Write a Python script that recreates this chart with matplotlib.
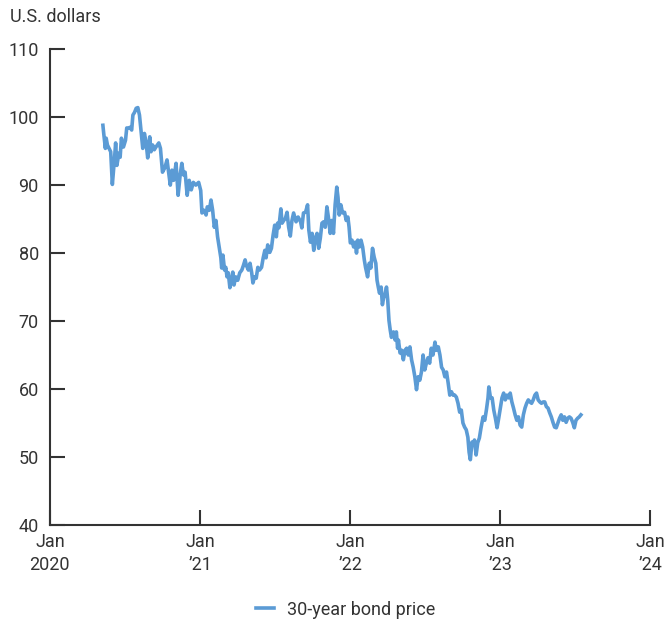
import numpy as np
import pandas as pd
import matplotlib
matplotlib.use('Agg')
import matplotlib.pyplot as plt

plt.rcParams['font.family'] = ['Roboto', 'DejaVu Sans']

# days since 2020-01-01 and the 30-year bond price
days = [129, 131, 135, 137, 140, 148, 152, 157, 160, 163, 168, 171, 174, 179, 184, 187,
        192, 195, 199, 202, 206, 210, 214, 218, 222, 226, 230, 234, 238, 243, 246, 250,
        254, 258, 265, 269, 274, 280, 285, 289, 293, 297, 301, 307, 312, 317, 321, 325,
        329, 334, 339, 344, 349, 355, 362, 367, 370, 375, 380, 383, 388, 392, 396, 400,
        404, 408, 412, 416, 418, 421, 425, 428, 431, 434, 438, 442, 445, 448, 452, 457,
        462, 467, 471, 475, 478, 483, 487, 491, 494, 498, 502, 506, 510, 515, 519, 523,
        526, 530, 535, 539, 543, 547, 551, 554, 557, 562, 565, 569, 573, 577, 581, 585,
        589, 593, 599, 604, 610, 613, 617, 622, 627, 630, 634, 638, 642, 646, 650, 654,
        658, 662, 666, 670, 674, 678, 682, 686, 690, 694, 698, 701, 704, 708, 712, 717,
        721, 725, 728, 731, 735, 739, 743, 746, 749, 753, 757, 761, 765, 768, 773, 777,
        781, 785, 789, 793, 796, 799, 802, 806, 809, 812, 816, 819, 822, 825, 828, 831,
        836, 840, 843, 846, 848, 852, 856, 860, 864, 868, 872, 876, 880, 884, 888, 892,
        896, 900, 904, 908, 912, 916, 920, 924, 928, 932, 937, 940, 945, 949, 953, 957,
        961, 965, 969, 973, 977, 981, 985, 989, 993, 997, 1001, 1005, 1009, 1013, 1017, 1020,
        1023, 1027, 1031, 1033, 1037, 1041, 1045, 1049, 1054, 1058, 1062, 1066, 1068, 1072, 1076, 1080,
        1084, 1088, 1092, 1096, 1100, 1104, 1108, 1112, 1116, 1120, 1124, 1128, 1132, 1136, 1140, 1144,
        1148, 1152, 1156, 1160, 1164, 1168, 1172, 1176, 1180, 1184, 1188, 1192, 1196, 1200, 1204, 1208,
        1212, 1216, 1220, 1224, 1228, 1232, 1236, 1240, 1244, 1248, 1252, 1256, 1260, 1264, 1268, 1272,
        1276, 1280, 1284, 1288, 1292]
price = [98.8, 97.6, 95.4, 96.9, 95.9, 94.9, 90.1, 93.7, 96.2, 92.9, 94.7, 94.1, 96.9, 95.6, 96.6, 98.4,
         98.4, 98.5, 98.1, 100.3, 100.7, 101.3, 101.4, 100.3, 97.8, 95.4, 97.6, 96.3, 94.0, 97.1, 94.9, 95.9,
         95.2, 95.6, 96.2, 95.4, 91.9, 92.6, 93.7, 91.9, 90.0, 92.2, 90.7, 93.2, 88.5, 91.5, 93.2, 91.5,
         91.9, 88.5, 90.7, 89.3, 90.4, 90.0, 90.4, 89.2, 85.9, 86.3, 85.6, 86.8, 86.3, 87.8, 86.3, 83.8,
         84.8, 82.4, 80.9, 79.3, 77.8, 79.7, 77.5, 77.9, 76.5, 77.1, 74.9, 76.0, 77.2, 75.3, 76.5, 76.0,
         77.1, 77.5, 78.2, 79.0, 78.2, 77.5, 78.5, 77.1, 75.6, 76.5, 76.3, 77.9, 77.5, 77.9, 79.3, 80.4,
         79.3, 81.2, 80.1, 80.7, 82.6, 84.1, 82.4, 84.4, 83.7, 86.5, 84.4, 84.8, 85.1, 86.0, 83.8, 82.5,
         84.8, 85.9, 84.6, 85.3, 84.6, 83.7, 85.9, 86.0, 87.1, 83.4, 81.6, 82.9, 80.4, 82.2, 82.9, 80.7,
         82.2, 84.4, 84.6, 83.8, 86.8, 85.1, 82.9, 84.8, 82.9, 87.1, 89.7, 88.2, 85.6, 87.1, 85.9, 86.0,
         84.8, 85.3, 83.8, 81.5, 81.9, 80.9, 81.6, 80.0, 81.9, 80.9, 81.9, 80.9, 79.0, 77.9, 76.5, 78.5,
         77.8, 80.7, 79.4, 78.5, 76.0, 75.0, 74.1, 75.0, 72.4, 73.4, 74.1, 75.0, 73.1, 70.1, 68.7, 67.6,
         68.4, 67.2, 68.4, 66.0, 67.2, 65.3, 65.7, 64.3, 65.7, 66.0, 65.0, 66.2, 64.3, 63.2, 61.8, 59.9,
         61.8, 61.3, 62.5, 65.0, 62.8, 63.8, 64.6, 63.8, 66.0, 65.0, 66.9, 65.7, 66.2, 65.0, 63.2, 62.8,
         61.8, 62.5, 60.9, 59.1, 59.6, 59.1, 59.1, 58.8, 57.9, 56.6, 56.9, 55.0, 54.4, 54.0, 52.9, 50.7,
         49.6, 52.2, 51.8, 52.5, 50.3, 52.1, 52.8, 54.3, 55.9, 55.4, 56.9, 58.7, 60.3, 58.7, 58.7, 56.9,
         55.7, 54.3, 55.7, 57.2, 58.7, 59.4, 58.4, 59.1, 58.7, 59.4, 58.1, 57.2, 56.2, 55.4, 55.9, 54.7,
         54.4, 56.2, 57.2, 57.9, 58.4, 58.1, 57.9, 58.4, 59.1, 59.4, 58.4, 58.1, 57.9, 58.1, 58.1, 57.4,
         57.2, 56.5, 55.9, 55.1, 54.4, 54.3, 55.0, 55.7, 56.2, 55.4, 55.9, 55.1, 55.7, 55.9, 55.7, 55.1,
         54.3, 55.4, 55.7, 55.9, 56.2]

dates = pd.Timestamp('2020-01-01') + pd.to_timedelta(days, unit='D')

tick_dates = pd.to_datetime(['2020-01-01', '2021-01-01', '2022-01-01', '2023-01-01', '2024-01-01'])
tick_labels = ['Jan\n2020', 'Jan\n\u201921', 'Jan\n\u201922', 'Jan\n\u201923', 'Jan\n\u201924']

dark = '#333333'
fig = plt.figure(figsize=(6.65, 6.22), dpi=100)
ax = fig.add_axes([0.075, 0.156, 0.903, 0.765])

ax.plot(dates, price, color='#5b9bd5', lw=2.6, solid_joinstyle='round',
        label='30-year bond price')

ax.set_xlim(tick_dates[0], tick_dates[-1])
ax.set_ylim(40, 110)
ax.set_yticks(np.arange(40, 111, 10))
ax.set_xticks(tick_dates)
ax.set_xticklabels(tick_labels)

for s in ['top', 'right']:
    ax.spines[s].set_visible(False)
for s in ['left', 'bottom']:
    ax.spines[s].set_color(dark)
    ax.spines[s].set_linewidth(1.5)
ax.tick_params(axis='both', direction='in', length=11, width=1.5, color=dark,
               labelsize=13, labelcolor=dark)
ax.tick_params(axis='y', pad=8)
ax.tick_params(axis='x', pad=6)
for lab in ax.get_xticklabels():
    lab.set_linespacing(1.35)

fig.text(0.015, 0.972, 'U.S. dollars', fontsize=13, color=dark, va='center', ha='left')

fig.legend(loc='center', bbox_to_anchor=(0.52, 0.02), frameon=False, fontsize=13,
           handlelength=1.0, handletextpad=0.7, labelcolor=dark)

plt.savefig('out.png', dpi=100)
